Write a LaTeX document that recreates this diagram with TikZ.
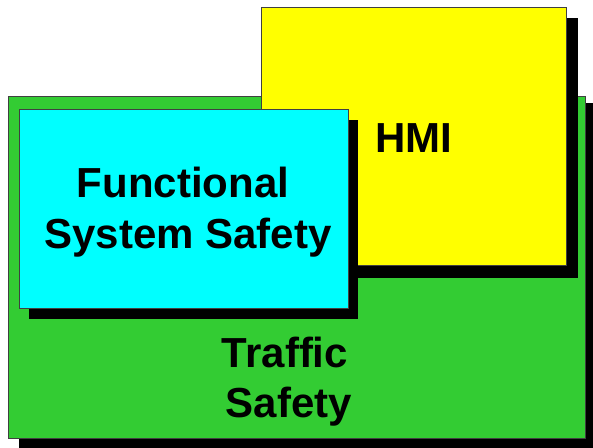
\documentclass[tikz,border=0pt]{standalone}
\usepackage{fontspec}
\setmainfont{Liberation Sans}
\definecolor{tgreen}{HTML}{33CC33}
\definecolor{tcyan}{HTML}{00FFFF}
\definecolor{tyellow}{HTML}{FFFF00}
\definecolor{edge}{HTML}{404040}
\begin{document}
\begin{tikzpicture}[x=1pt,y=-1pt,
  shadowbox/.style={fill=black},
  areabox/.style={draw=edge,line width=1pt},
  label/.style={font=\fontsize{42}{48}\selectfont\bfseries,anchor=base,inner sep=0pt}]
\useasboundingbox (0,0) rectangle (593,447);
% Traffic safety
\fill[shadowbox] (19,103) rectangle (600,455);
\path[areabox,fill=tgreen] (8,96.5) rectangle (585.5,438.5);
% HMI
\fill[shadowbox] (273,18) rectangle (578,278);
\path[areabox,fill=tyellow] (261,7) rectangle (566,265);
% Functional system safety
\fill[shadowbox] (29,120) rectangle (358,319);
\path[areabox,fill=tcyan] (19,109) rectangle (348,308);
% labels
\node[label] (hmi) at (414,152) {HMI};
\node[label] (fss1) at (183,197) {Functional};
\node[label] (fss2) at (188,248) {System Safety};
\node[label] (ts1) at (285,367) {Traffic};
\node[label] (ts2) at (289,417) {Safety};
\end{tikzpicture}
\end{document}
